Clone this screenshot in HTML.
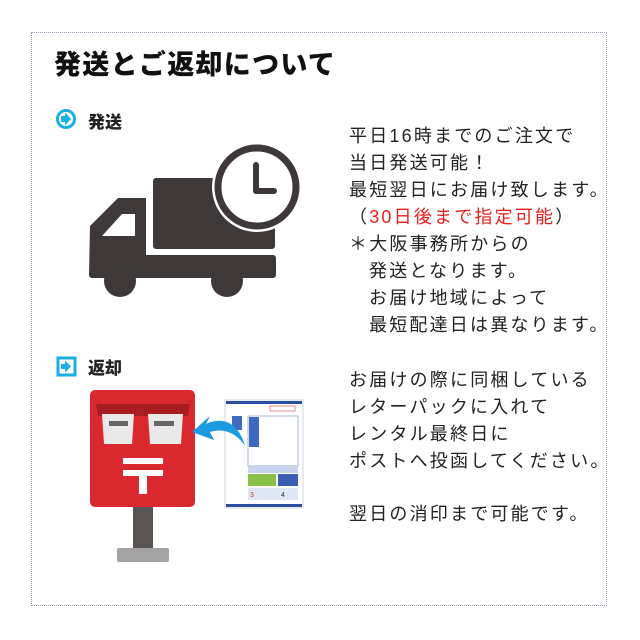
<!DOCTYPE html>
<html><head><meta charset="utf-8"><style>
html,body{margin:0;padding:0;background:#fff;}
#c{position:relative;width:640px;height:640px;overflow:hidden;font-family:"Liberation Sans","Noto Sans CJK JP",sans-serif;color:#222;}
.box{position:absolute;left:31px;top:32px;width:576px;height:574px;border:1.5px dotted #9aa3bd;box-sizing:border-box;}
.t{position:absolute;white-space:nowrap;font-size:18px;letter-spacing:2.2px;line-height:20px;color:#222;}
.h{position:absolute;white-space:nowrap;font-weight:900;}
</style></head><body><div id="c">
<div class="box"></div>
<div class="h" style="left:54px;top:43px;font-size:27px;letter-spacing:1.3px;color:#111;">発送とご返却について</div>
<svg style="position:absolute;left:0;top:0" width="640" height="640">
 <circle cx="66" cy="119" r="8.5" fill="#fff" stroke="#1aaee6" stroke-width="3"/>
 <path d="M61 116h4v-3.5l6 6.5-6 6.5v-3.5h-4z" fill="#1aaee6"/>
 <rect x="58" y="358" width="17" height="17" fill="#fff" stroke="#1aaee6" stroke-width="3"/>
 <path d="M61 364h4v-3.5l6 6-6 6v-3.5h-4z" fill="#1aaee6"/>
 <g fill="#3e3838">
  <rect x="153" y="178" width="122" height="71" rx="3"/>
  <path d="M90 226 L118 198 H146 V255 H273 a3 3 0 0 1 3 3 V275 a3 3 0 0 1 -3 3 H92 a3 3 0 0 1 -3 -3 Z"/>
  <circle cx="120" cy="281" r="16"/><circle cx="227" cy="281" r="16"/>
 </g>
 <path d="M102 236 L122 214 H135 V236 Z" fill="#fff"/>
 <circle cx="257" cy="187" r="45" fill="#fff"/>
 <circle cx="257" cy="187" r="39" fill="#fff" stroke="#3e3838" stroke-width="7"/>
 <path d="M256 165 V191 H274" fill="none" stroke="#3e3838" stroke-width="6" stroke-linecap="round" stroke-linejoin="round"/>
 <rect x="133" y="505" width="20" height="45" fill="#5a5552"/>
 <rect x="117" y="548" width="52" height="14" rx="2" fill="#a3a3a3"/>
 <rect x="90" y="390" width="105" height="117" rx="5" fill="#d9282e"/>
 <path d="M96 404 H190 L188 416 H98 Z" fill="#a81c22"/>
 <path d="M102 414 H134 L132 444 H104 Z" fill="#e9e9e9"/><rect x="109" y="421" width="19" height="5" fill="#666"/>
 <path d="M148 414 H183 L181 444 H150 Z" fill="#e9e9e9"/><rect x="154" y="421" width="20" height="5" fill="#666"/>
 <rect x="123" y="458" width="40" height="6" fill="#fff"/><rect x="123" y="470" width="40" height="6" fill="#fff"/><rect x="139" y="470" width="8" height="24" fill="#fff"/>
 <rect x="225" y="400" width="78" height="108" fill="#fff" stroke="#d0d4e4"/>
 <rect x="226" y="401" width="76" height="3" fill="#2b4fa0"/><rect x="226" y="504" width="76" height="3" fill="#2b4fa0"/>
 <rect x="232" y="416" width="10" height="14" fill="#3c6ac0"/>
 <rect x="248" y="416" width="50" height="50" fill="none" stroke="#9aa6c8" stroke-width="0.8"/>
 <rect x="249" y="417" width="10" height="30" fill="#3c6ac0"/>
 <rect x="270" y="406" width="25" height="5" fill="none" stroke="#e07080" stroke-width="0.8"/>
 <rect x="248" y="465" width="50" height="8" fill="#c8d4ee"/>
 <rect x="248" y="474" width="28" height="12" fill="#8bc34a"/>
 <rect x="278" y="474" width="20" height="12" fill="#3a5fb0"/>
 <rect x="248" y="488" width="50" height="12" fill="#dfe6f5"/>
 <text x="250" y="497" font-size="7" fill="#d33" font-family="Liberation Sans">3</text>
 <text x="281" y="497" font-size="7" fill="#233" font-family="Liberation Sans">4</text>
 <path d="M245 446 C238 420 220 417 206 424 L210 416 L192 432 L214 440 L210 432 C222 428 236 432 245 446 Z" fill="#1b9be0"/>
</svg>
<div class="h" style="left:88px;top:108px;font-size:17px;color:#222;">発送</div>
<div class="h" style="left:88px;top:354px;font-size:17px;color:#222;">返却</div>
<div class="t" style="left:349px;top:126px;">平日16時までのご注文で</div>
<div class="t" style="left:349px;top:153px;">当日発送可能！</div>
<div class="t" style="left:349px;top:180px;">最短翌日にお届け致します。</div>
<div class="t" style="left:349px;top:207px;">（<span style="color:#e8201c">30日後まで指定可能</span>）</div>
<div class="t" style="left:349px;top:234px;">＊大阪事務所からの</div>
<div class="t" style="left:369px;top:261px;">発送となります。</div>
<div class="t" style="left:369px;top:288px;">お届け地域によって</div>
<div class="t" style="left:369px;top:315px;">最短配達日は異なります。</div>
<div class="t" style="left:349px;top:370px;">お届けの際に同梱している</div>
<div class="t" style="left:349px;top:397px;">レターパックに入れて</div>
<div class="t" style="left:349px;top:424px;">レンタル最終日に</div>
<div class="t" style="left:349px;top:451px;">ポストへ投函してください。</div>
<div class="t" style="left:349px;top:504px;">翌日の消印まで可能です。</div>
</div></body></html>
